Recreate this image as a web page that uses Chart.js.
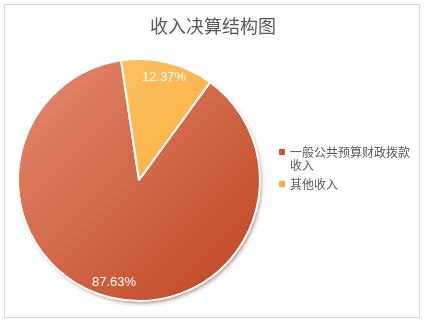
<!DOCTYPE html>
<html>
<head>
<meta charset="utf-8">
<script src="https://cdn.jsdelivr.net/npm/chart.js@4/dist/chart.umd.min.js"></script>
<style>
  html, body { margin: 0; padding: 0; background: #fff; }
  #wrap { position: relative; width: 426px; height: 324px; }
  #frame { position: absolute; left: 4px; top: 4px; width: 416px; height: 314px; border: 1px solid #d9d9d9; box-sizing: border-box; }
  #title { position: absolute; left: 0; width: 426px; top: 12px; text-align: center;
    font-family: "Noto Sans CJK SC", sans-serif; font-size: 18px; color: #595959; line-height: 26px; }
  #legend { position: absolute; left: 278px; top: 145px; width: 135px;
    font-family: "Noto Sans CJK SC", sans-serif; font-size: 12px; color: #595959; line-height: 13px; }
  .item { position: relative; padding-left: 12px; margin-bottom: 6px; }
  .box { position: absolute; left: 1px; top: 4px; width: 6px; height: 6px; }
  canvas { position: absolute; left: 0; top: 0; }
</style>
</head>
<body>
<div id="wrap">
  <div id="frame"></div>
  <canvas id="pie" width="426" height="324"></canvas>
  <div id="title">收入决算结构图</div>
  <div id="legend"></div>
</div>
<script>
const categories = ['一般公共预算财政拨款收入', '其他收入'];
const shares = [87.63, 12.37];
const lightColors = ['#e58a70', '#ffc76e'];
const darkColors = ['#bf4420', '#f9a42a'];
const legendColors = ['#cc5535', '#fbae3c'];

// legend as html so the long label can wrap
const legendEl = document.getElementById('legend');
categories.forEach((name, i) => {
    const item = document.createElement('div');
    item.className = 'item';
    item.innerHTML = '<span class="box" style="background:' + legendColors[i] + '"></span>' + name;
    legendEl.appendChild(item);
});

function sliceGradient(context) {
    const chart = context.chart;
    const area = chart.chartArea;
    if (!area) return lightColors[context.dataIndex];
    const g = chart.ctx.createLinearGradient(area.left, area.top, area.right, area.bottom);
    g.addColorStop(0, lightColors[context.dataIndex]);
    g.addColorStop(1, darkColors[context.dataIndex]);
    return g;
}

// soft shadow under the pie
const shadowPlugin = {
    id: 'pieShadow',
    beforeDatasetsDraw(chart) {
        const arc = chart.getDatasetMeta(0).data[0];
        if (!arc) return;
        const ctx = chart.ctx;
        ctx.save();
        ctx.shadowColor = 'rgba(90, 30, 10, 0.55)';
        ctx.shadowBlur = 4;
        ctx.shadowOffsetX = 2;
        ctx.shadowOffsetY = 3;
        ctx.fillStyle = '#fff';
        ctx.beginPath();
        ctx.arc(arc.x, arc.y, arc.outerRadius - 1, 0, Math.PI * 2);
        ctx.fill();
        ctx.restore();
    }
};

// percentage labels near the rim
const valueLabels = {
    id: 'valueLabels',
    afterDatasetsDraw(chart) {
        const ctx = chart.ctx;
        const meta = chart.getDatasetMeta(0);
        ctx.save();
        ctx.font = '13px "Liberation Sans", Arial, sans-serif';
        ctx.fillStyle = '#ffffff';
        ctx.textAlign = 'center';
        ctx.textBaseline = 'middle';
        meta.data.forEach((arc, i) => {
            const mid = (arc.startAngle + arc.endAngle) / 2;
            const r = arc.outerRadius * 0.87;
            ctx.fillText(shares[i].toFixed(2) + '%', arc.x + Math.cos(mid) * r, arc.y + Math.sin(mid) * r);
        });
        ctx.restore();
    }
};

new Chart(document.getElementById('pie'), {
    type: 'pie',
    data: {
        labels: categories,
        datasets: [{
            data: shares,
            backgroundColor: sliceGradient,
            borderColor: '#ffffff',
            borderWidth: 2
        }]
    },
    options: {
        responsive: false,
        animation: false,
        rotation: 36,
        layout: { padding: { left: 17, right: 165, top: 58, bottom: 22 } },
        plugins: {
            legend: { display: false },
            title: { display: false },
            tooltip: { enabled: false }
        }
    },
    plugins: [shadowPlugin, valueLabels]
});
</script>
</body>
</html>
